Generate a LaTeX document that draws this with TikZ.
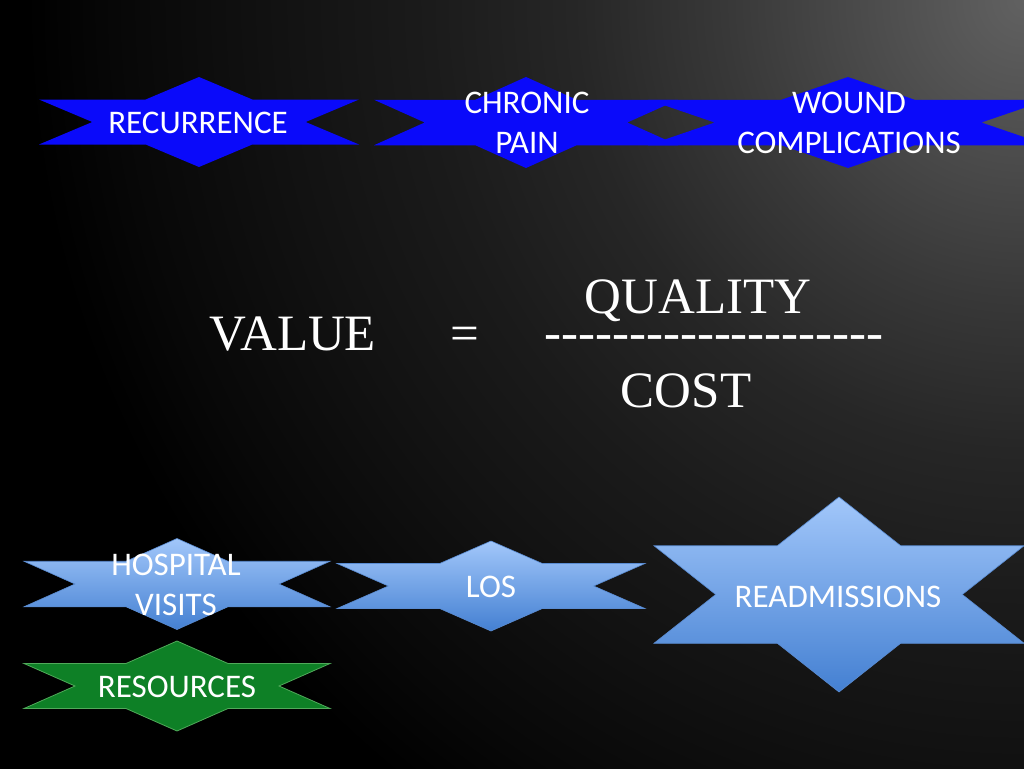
\documentclass[tikz,border=0pt]{standalone}
\usepackage{fontspec}
\setmainfont{Carlito}
\newfontfamily\tnr{Liberation Serif}
\definecolor{starblue}{RGB}{10,10,250}
\definecolor{lbTop}{RGB}{162,199,250}
\definecolor{lbBot}{RGB}{68,128,210}
\definecolor{lbLine}{RGB}{90,140,210}
\definecolor{gfill}{RGB}{14,128,38}
\definecolor{gline}{RGB}{80,170,90}
\definecolor{bg0}{gray}{0.38}
\definecolor{bg1}{gray}{0.30}
\definecolor{bg2}{gray}{0.22}
\definecolor{bg3}{gray}{0.15}
\definecolor{bg4}{gray}{0.105}
\definecolor{bg5}{gray}{0.07}
\definecolor{bg6}{gray}{0.03}
\pgfdeclareradialshading{bgrad}{\pgfpoint{0bp}{0bp}}{color(0bp)=(bg0); color(3.4bp)=(bg1); color(6.8bp)=(bg2); color(10.2bp)=(bg3); color(13.6bp)=(bg4); color(17bp)=(bg5); color(20.5bp)=(bg6); color(22.7bp)=(black); color(50bp)=(black)}
% hexagram-like star: centre (#1,#2), half width #3, half height #4
\newcommand\hexpath[4]{(#1,#2-#4) -- (#1+#3/3,#2-#4/2) -- (#1+#3,#2-#4/2) -- (#1+2*#3/3,#2) -- (#1+#3,#2+#4/2) -- (#1+#3/3,#2+#4/2) -- (#1,#2+#4) -- (#1-#3/3,#2+#4/2) -- (#1-#3,#2+#4/2) -- (#1-2*#3/3,#2) -- (#1-#3,#2-#4/2) -- (#1-#3/3,#2-#4/2) -- cycle}
\tikzset{
  bluestar/.style={fill=starblue},
  lbstar/.style={top color=lbTop, bottom color=lbBot, draw=lbLine, line width=0.6pt},
  greenstar/.style={fill=gfill, draw=gline, line width=0.8pt},
  lbl/.style={text=white, font=\fontsize{33}{40}\selectfont, inner sep=0pt, align=center},
  formula/.style={text=white, font=\tnr\fontsize{51}{60}\selectfont, inner sep=0pt},
}
\newcommand\hy{\hbox{-}}
\begin{document}
\begin{tikzpicture}[x=1pt,y=-1pt]
\useasboundingbox (0,0) rectangle (1024,768);
\fill[black] (-10,-10) rectangle (1034,778);
\begin{scope}
  \clip (-2,-2) rectangle (1026,770);
  \shade[shading=bgrad] (1024,0) circle[radius=1100pt];
\end{scope}
% top row
\path[bluestar] \hexpath{199}{122}{160}{45};
\path[bluestar] \hexpath{526}{122.5}{152}{45.5};
\path[bluestar] \hexpath{848}{122.5}{200}{45.5};
\node[lbl, anchor=base] (recurrence) at (198,133) {RECURRENCE};
\node[lbl, anchor=north] (chronic) at (527,92) {CHRONIC\\PAIN};
\node[lbl, anchor=north] (wound) at (849,92) {WOUND\\COMPLICATIONS};
% formula
\node[formula, anchor=base] (value) at (293,350) {VALUE};
\node[formula, anchor=base] (eq) at (465,350) {=};
\node[formula, anchor=base] (quality) at (698,313) {QUALITY};
\node[formula, anchor=base] (bar) at (714,349.5) {\hy\hy\hy\hy\hy\hy\hy\hy\hy\hy\hy\hy\hy\hy\hy\hy\hy\hy\hy\hy};
\node[formula, anchor=base] (cost) at (686,407) {COST};
% bottom row
\path[lbstar] \hexpath{177}{584}{153}{45.5};
\path[greenstar] \hexpath{177}{686}{153}{45};
\path[lbstar] \hexpath{491}{586}{154}{45};
\path[lbstar] \hexpath{839}{594.5}{185}{97.5};
\node[lbl, anchor=north] (hospital) at (176,554) {HOSPITAL\\VISITS};
\node[lbl, anchor=base] (resources) at (177,697) {RESOURCES};
\node[lbl, anchor=base] (los) at (491,597) {LOS};
\node[lbl, anchor=base] (readm) at (838,607) {READMISSIONS};
\end{tikzpicture}
\end{document}
